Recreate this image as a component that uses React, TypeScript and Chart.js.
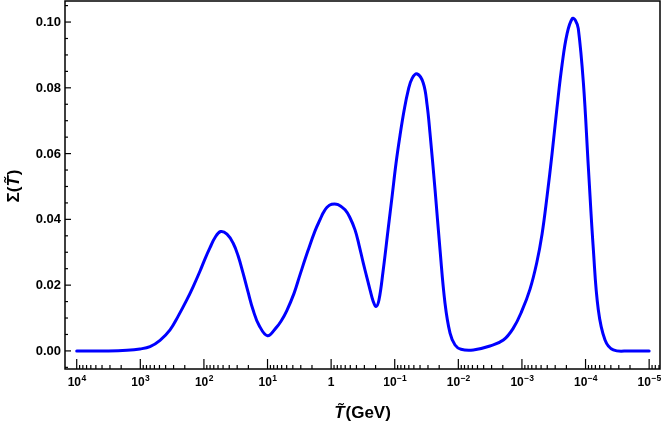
import React, { useEffect, useRef } from "react";
import { Chart, registerables } from "chart.js";

Chart.register(...registerables);

// Temperature T~ (GeV), ordered from high to low (left to right on reversed log axis)
const T_VALUES = [
  10000, 3162, 1620, 1012, 703, 490, 341, 255, 186, 148, 115, 96.1, 80.2, 66.8, 54.5, 43.4,
  34.8, 29.1, 24.3, 20.3, 16.9, 13.6, 10.0, 7.35, 6.14, 4.99, 3.83, 3.08, 2.31, 1.79, 1.47,
  1.33, 1.16, 0.98, 0.778, 0.604, 0.505, 0.421, 0.364, 0.312, 0.273, 0.244, 0.219, 0.197,
  0.177, 0.153, 0.127, 0.11, 0.0955, 0.0826, 0.0714, 0.0618, 0.0535, 0.0442, 0.0355, 0.031,
  0.0279, 0.0232, 0.0194, 0.0162, 0.0135, 0.01127, 0.00908, 0.00581, 0.00318, 0.00196,
  0.00136, 0.00101, 0.000746, 0.000585, 0.000483, 0.000403, 0.000336, 0.000281, 0.000234,
  0.000195, 0.000161, 0.000144, 0.00013, 0.000108, 0.0000904, 0.0000753, 0.000063,
  0.0000494, 0.0000366, 0.00002, 0.00001,
];

// Sigma(T~) values
const SIGMA_VALUES = [
  0.0, 0.0, 0.0002, 0.0006, 0.0013, 0.0032, 0.0064, 0.0105, 0.0155, 0.0195, 0.0243, 0.028,
  0.0314, 0.0345, 0.0363, 0.0355, 0.0328, 0.029, 0.0237, 0.018, 0.0125, 0.0078, 0.0046,
  0.007, 0.009, 0.0122, 0.0175, 0.0232, 0.0305, 0.0365, 0.0402, 0.042, 0.0437, 0.0446,
  0.0445, 0.0429, 0.0405, 0.0368, 0.0322, 0.0267, 0.0222, 0.0185, 0.0152, 0.0135, 0.0155,
  0.024, 0.037, 0.047, 0.057, 0.0655, 0.073, 0.079, 0.0828, 0.0842, 0.0814, 0.0748, 0.0662,
  0.0489, 0.0307, 0.0145, 0.0054, 0.0018, 0.0005, 0.0003, 0.0015, 0.0033, 0.007, 0.012,
  0.0188, 0.0268, 0.0355, 0.047, 0.06, 0.074, 0.087, 0.0965, 0.1011, 0.1005, 0.098, 0.0814,
  0.056, 0.0307, 0.0125, 0.0033, 0.0003, 0.0, 0.0,
];

const X_TICK_EXPONENTS = [4, 3, 2, 1, 0, -1, -2, -3, -4, -5];
const X_MINOR_MULTIPLIERS = [2, 3, 4, 5, 6, 7, 8, 9];
const Y_TICK_VALUES = [0, 0.02, 0.04, 0.06, 0.08, 0.1];
const Y_TICK_LABELS = ["0.00", "0.02", "0.04", "0.06", "0.08", "0.10"];
const Y_MINOR_PER_MAJOR = 4;
const X_RANGE = [6.75e-6, 15280];
const Y_RANGE = [-0.0055, 0.1064];

const FONT = "'Liberation Sans', Arial, sans-serif";

const framePlugin = {
  id: "framePlugin",
  afterDraw(chart: any) {
    const { ctx, chartArea: a, scales } = chart;
    const xs = scales.x;
    const ys = scales.y;
    ctx.save();
    ctx.strokeStyle = "#000";
    ctx.fillStyle = "#000";
    ctx.lineWidth = 1.5;
    ctx.strokeRect(a.left, a.top, a.right - a.left, a.bottom - a.top);

    // Y ticks (inward)
    ctx.lineWidth = 1.2;
    const yStep = (Y_TICK_VALUES[1] - Y_TICK_VALUES[0]) / Y_MINOR_PER_MAJOR;
    for (let k = -10; k <= 40; k++) {
      const v = k * yStep;
      if (v < Y_RANGE[0] || v > Y_RANGE[1]) continue;
      const py = ys.getPixelForValue(v);
      const len = k % Y_MINOR_PER_MAJOR === 0 ? 6 : 3;
      ctx.beginPath();
      ctx.moveTo(a.left, py);
      ctx.lineTo(a.left + len, py);
      ctx.stroke();
    }

    // X ticks (inward)
    for (let n = -6; n <= 4; n++) {
      const list = [1, ...X_MINOR_MULTIPLIERS];
      for (const m of list) {
        const v = m * Math.pow(10, n);
        if (v < X_RANGE[0] || v > X_RANGE[1]) continue;
        const px = xs.getPixelForValue(v);
        const len = m === 1 ? 10 : 4;
        ctx.beginPath();
        ctx.moveTo(px, a.bottom);
        ctx.lineTo(px, a.bottom - len);
        ctx.stroke();
      }
    }

    // Y labels
    ctx.font = `bold 13px ${FONT}`;
    ctx.textAlign = "right";
    ctx.textBaseline = "middle";
    Y_TICK_VALUES.forEach((v, i) => {
      ctx.fillText(Y_TICK_LABELS[i], a.left - 4, ys.getPixelForValue(v) + 0.5);
    });

    // X labels with superscripts
    ctx.textAlign = "left";
    ctx.textBaseline = "alphabetic";
    const baseFont = `bold 12px ${FONT}`;
    const expFont = `bold 8.5px ${FONT}`;
    const baseY = a.bottom + 17;
    X_TICK_EXPONENTS.forEach((e) => {
      const px = xs.getPixelForValue(Math.pow(10, e));
      if (e === 0) {
        ctx.font = baseFont;
        ctx.textAlign = "center";
        ctx.fillText("1", px, baseY);
        ctx.textAlign = "left";
        return;
      }
      const expText = e < 0 ? "\u2212" + String(-e) : String(e);
      ctx.font = baseFont;
      const w1 = ctx.measureText("10").width;
      ctx.font = expFont;
      const w2 = ctx.measureText(expText).width;
      const start = px - (w1 + w2) / 2;
      ctx.font = baseFont;
      ctx.fillText("10", start, baseY);
      ctx.font = expFont;
      ctx.fillText(expText, start + w1 + 0.5, baseY - 5);
    });

    // X axis title: T~(GeV)
    const tFont = `italic bold 17px ${FONT}`;
    const rFont = `bold 17px ${FONT}`;
    const tText = "T\u0303";
    const rText = "(GeV)";
    ctx.font = tFont;
    const tw = ctx.measureText("T").width + 1;
    ctx.font = rFont;
    const rw = ctx.measureText(rText).width;
    const cx = (a.left + a.right) / 2;
    const sx = cx - (tw + rw) / 2;
    const ty = 418;
    ctx.font = tFont;
    ctx.fillText(tText, sx, ty);
    ctx.font = rFont;
    ctx.fillText(rText, sx + tw, ty);

    // Y axis title: Sigma(T~)
    ctx.save();
    ctx.translate(14, (a.top + a.bottom) / 2 + 1);
    ctx.rotate(-Math.PI / 2);
    ctx.textBaseline = "middle";
    const p1 = "\u03A3(";
    const p3 = ")";
    ctx.font = rFont;
    const w1 = ctx.measureText(p1).width;
    const w3 = ctx.measureText(p3).width;
    ctx.font = tFont;
    const w2 = ctx.measureText("T").width + 1;
    const total = w1 + w2 + w3;
    let xx = -total / 2;
    ctx.font = rFont;
    ctx.fillText(p1, xx, 0);
    xx += w1;
    ctx.font = tFont;
    ctx.fillText(tText, xx, 0);
    xx += w2;
    ctx.font = rFont;
    ctx.fillText(p3, xx, 0);
    ctx.restore();

    ctx.restore();
  },
};

export default function App() {
  const canvasRef = useRef<HTMLCanvasElement | null>(null);

  useEffect(() => {
    if (!canvasRef.current) return;
    const data = T_VALUES.map((t, i) => ({ x: t, y: SIGMA_VALUES[i] }));
    const chart = new Chart(canvasRef.current, {
      type: "line",
      data: {
        datasets: [
          {
            data,
            borderColor: "#0000ff",
            borderWidth: 3,
            pointRadius: 0,
            fill: false,
            tension: 0.4,
            borderJoinStyle: "round",
            borderCapStyle: "round",
          },
        ],
      },
      options: {
        animation: false,
        responsive: false,
        devicePixelRatio: 1,
        layout: { padding: { top: 1, right: 4, left: 0, bottom: 0 } },
        plugins: {
          legend: { display: false },
          tooltip: { enabled: false },
        },
        scales: {
          x: {
            type: "logarithmic",
            reverse: true,
            min: X_RANGE[0],
            max: X_RANGE[1],
            ticks: { display: false },
            grid: { display: false },
            border: { display: false },
            afterFit: (s: any) => {
              s.height = 56;
            },
          },
          y: {
            type: "linear",
            min: Y_RANGE[0],
            max: Y_RANGE[1],
            ticks: { display: false },
            grid: { display: false },
            border: { display: false },
            afterFit: (s: any) => {
              s.width = 65;
            },
          },
        },
      } as any,
      plugins: [framePlugin],
    });
    return () => chart.destroy();
  }, []);

  return (
    <div style={{ position: "absolute", left: 0, top: 0, width: 664, height: 425, background: "#fff" }}>
      <canvas ref={canvasRef} width={664} height={425} style={{ display: "block" }} />
    </div>
  );
}
